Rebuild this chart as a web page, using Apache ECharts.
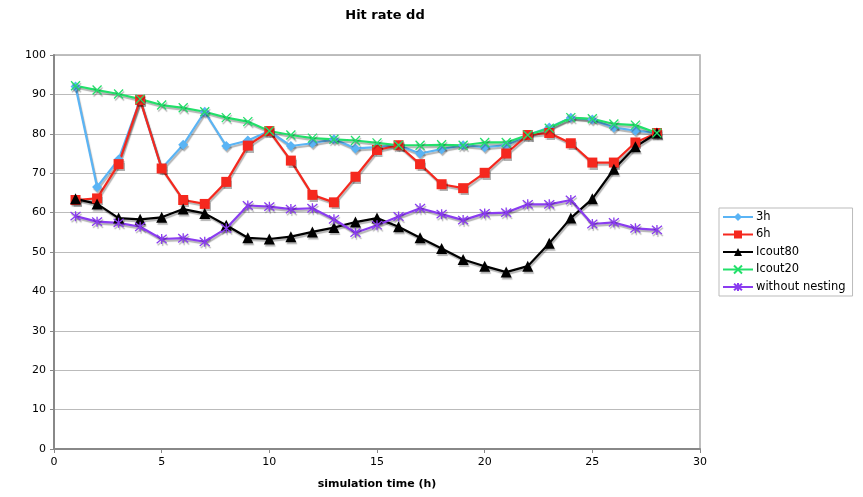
<!DOCTYPE html>
<html>
<head>
<meta charset="utf-8">
<script src="https://cdn.jsdelivr.net/npm/echarts@6/dist/echarts.min.js"></script>
<style>
html, body { margin: 0; padding: 0; background: #fff; }
#chart { width: 863px; height: 497px; }
</style>
</head>
<body>
<div id="chart"></div>
<script>
// simulation time (h)
var hours = [1, 2, 3, 4, 5, 6, 7, 8, 9, 10, 11, 12, 13, 14, 15, 16, 17, 18, 19, 20, 21, 22, 23, 24, 25, 26, 27, 28];

var rate3h = [92.0, 66.5, 73.5, 88.6, 71.2, 77.2, 85.6, 76.9, 78.3, 80.7, 76.9, 77.6, 78.6, 76.3, 76.6,
              77.1, 75.0, 76.1, 77.1, 76.6, 77.1, 79.7, 81.6, 84.1, 83.6, 81.6, 80.8, 80.2];
var rate6h = [63.2, 63.6, 72.3, 88.6, 71.2, 63.2, 62.2, 67.8, 77.0, 80.7, 73.2, 64.5, 62.6, 69.1, 75.9,
              77.1, 72.3, 67.2, 66.2, 70.1, 75.0, 79.7, 80.2, 77.6, 72.7, 72.7, 77.8, 80.2];
var rateIcout80 = [63.5, 62.2, 58.6, 58.3, 58.8, 60.9, 59.8, 56.8, 53.6, 53.3, 53.9, 55.1, 56.2, 57.6, 58.6,
                   56.4, 53.6, 50.9, 48.1, 46.4, 44.9, 46.4, 52.2, 58.6, 63.5, 71.0, 76.7, 80.2];
var rateIcout20 = [92.2, 91.1, 90.1, 88.8, 87.3, 86.6, 85.6, 84.1, 83.1, 80.7, 79.7, 78.9, 78.6, 78.3, 77.7,
                   77.1, 77.1, 77.2, 77.1, 77.8, 77.8, 79.7, 81.4, 84.1, 83.8, 82.5, 82.2, 80.2];
var rateNoNesting = [59.1, 57.7, 57.4, 56.4, 53.3, 53.5, 52.6, 56.0, 61.8, 61.5, 60.9, 61.1, 58.3, 54.9, 56.8,
                     59.0, 61.1, 59.6, 58.1, 59.8, 60.0, 62.1, 62.1, 63.2, 57.1, 57.5, 56.0, 55.6];

var xTicks = [0, 30, 5];   // min, max, interval
var yTicks = [0, 100, 10];

function pairs(vals) {
  return hours.map(function (h, i) { return [h, vals[i]]; });
}

var FONT = 'DejaVu Sans';
var shadow = { shadowColor: 'rgba(0,0,0,0.3)', shadowBlur: 1, shadowOffsetX: 1, shadowOffsetY: 2 };

function lineSeries(name, vals, color, symbol, size, strokeOnly) {
  var item = strokeOnly
    ? Object.assign({ color: color, borderColor: color, borderWidth: 1.3 }, shadow)
    : Object.assign({ color: color }, shadow);
  return {
    name: name,
    type: 'line',
    data: pairs(vals),
    symbol: symbol,
    symbolSize: size,
    showAllSymbol: true,
    lineStyle: Object.assign({ color: color, width: 2.2 }, shadow),
    itemStyle: item,
    emphasis: { disabled: true },
    animation: false
  };
}

var chart = echarts.init(document.getElementById('chart'));
chart.setOption({
  backgroundColor: '#fff',
  title: {
    text: 'Hit rate dd',
    left: 380,
    textAlign: 'center',
    top: 4,
    textStyle: { fontFamily: FONT, fontSize: 13, fontWeight: 'bold', color: '#000' }
  },
  grid: {
    left: 54,
    right: 163,
    top: 55,
    bottom: 48,
    show: true,
    borderColor: '#aaa',
    borderWidth: 1.5
  },
  legend: {
    orient: 'vertical',
    left: 719,
    top: 208,
    itemWidth: 30,
    itemHeight: 10,
    itemGap: 5.5,
    padding: [3, 7, 3, 3],
    borderColor: '#bbb',
    borderWidth: 1,
    textStyle: { fontFamily: FONT, fontSize: 11.5, color: '#000', padding: [0, 0, 0, -2] },
    data: ['3h', '6h', 'Icout80', 'Icout20', 'without nesting']
  },
  xAxis: {
    type: 'value',
    min: xTicks[0],
    max: xTicks[1],
    interval: xTicks[2],
    name: 'simulation time (h)',
    nameLocation: 'middle',
    nameGap: 30,
    nameTextStyle: { fontFamily: FONT, fontSize: 11, fontWeight: 'bold', color: '#000' },
    axisLine: { show: true, lineStyle: { color: '#888', width: 2 } },
    axisTick: { show: true, length: 4, lineStyle: { color: '#888' } },
    axisLabel: { fontFamily: FONT, fontSize: 11, color: '#000', margin: 8 },
    splitLine: { show: false }
  },
  yAxis: {
    type: 'value',
    min: yTicks[0],
    max: yTicks[1],
    interval: yTicks[2],
    axisLine: { show: true, lineStyle: { color: '#888', width: 2 } },
    axisTick: { show: true, length: 4, lineStyle: { color: '#888' } },
    axisLabel: { fontFamily: FONT, fontSize: 11, color: '#000', margin: 8 },
    splitLine: { show: true, lineStyle: { color: '#bbb', width: 1 } }
  },
  series: [
    lineSeries('3h', rate3h, '#5ab4f5', 'diamond', 10),
    lineSeries('6h', rate6h, '#f5281e', 'rect', 10),
    lineSeries('Icout80', rateIcout80, '#000000', 'triangle', 11),
    lineSeries('Icout20', rateIcout20, '#22e06a', 'path://M0,0L10,10M10,0L0,10', 9, true),
    lineSeries('without nesting', rateNoNesting, '#8a3cf0', 'path://M0,0L10,10M10,0L0,10M5,-1L5,11', 10, true)
  ]
});
</script>
</body>
</html>
